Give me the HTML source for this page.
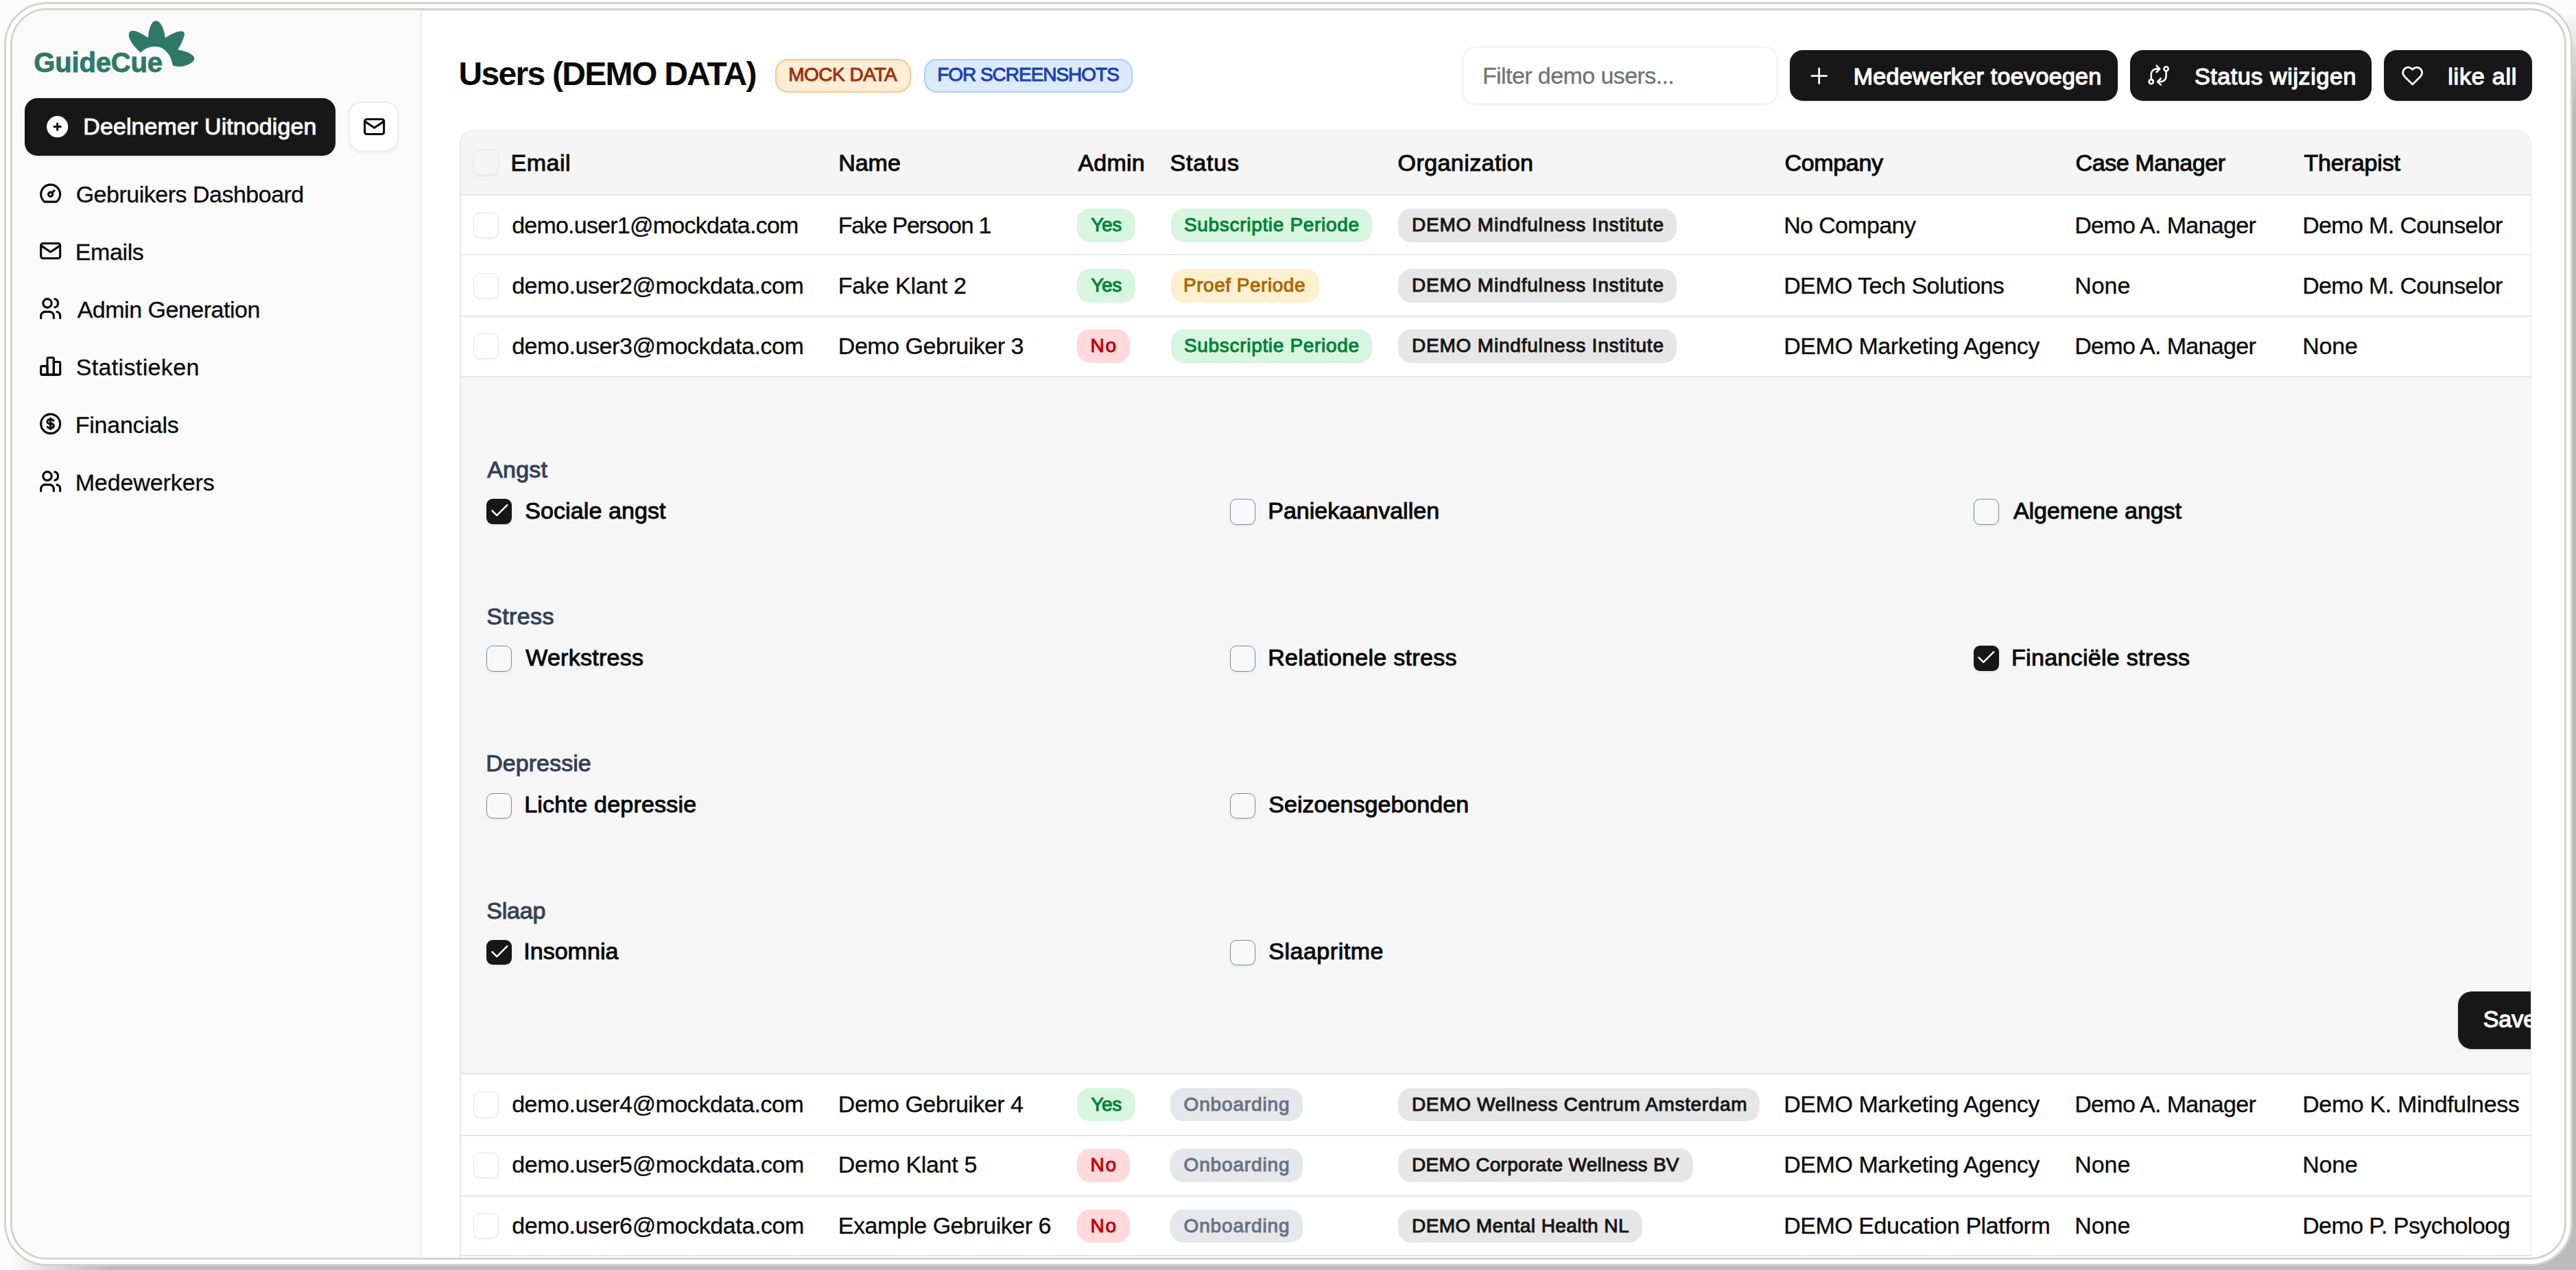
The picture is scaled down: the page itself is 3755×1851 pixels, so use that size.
<!DOCTYPE html>
<html lang="nl"><head><meta charset="utf-8"><title>Users (DEMO DATA)</title><style>
html,body{margin:0;padding:0}
body{width:3755px;height:1851px;overflow:hidden;background:#fcfcfc;position:relative;font-family:"Liberation Sans",Arial,sans-serif;-webkit-font-smoothing:antialiased}
.t{position:absolute;white-space:pre;display:block;margin:0;padding:0}
</style></head><body>
<div style="position:absolute;left:3700px;top:0;width:55px;height:1851px;background:linear-gradient(to bottom,#fcfcfc 18px,#d6d6d6 85px,#bbbbbb 160px)"></div>
<div style="position:absolute;left:0;top:1790px;width:3755px;height:61px;background:linear-gradient(to right,#fcfcfc 18px,#d6d6d6 85px,#bbbbbb 160px)"></div>
<div class="" style="position:absolute;left:6.00px;top:3.00px;width:3744.00px;height:1842.00px;box-sizing:border-box;border:3px solid #d3d3d1;border-radius:62px;background:#fff;"></div>
<div id="win" style="position:absolute;left:15px;top:12px;width:3726px;height:1824px;box-sizing:border-box;border:3px solid #d3d3d1;border-radius:53px;background:#fff;overflow:hidden"><div id="app" style="position:absolute;left:-18px;top:-15px;width:3755px;height:1851px">
<div class="" style="position:absolute;left:0.00px;top:0.00px;width:613.00px;height:1851.00px;background:#fafafa;"></div>
<div class="" style="position:absolute;left:613.00px;top:0.00px;width:2.00px;height:1851.00px;background:#ebebeb;"></div>
<svg style="position:absolute;left:30px;top:20px" width="280" height="100" viewBox="0 0 2576 920"><path fill="#2f7867" d="M1610 520C1540 470 1440 340 1452 280C1455 225 1500 220 1540 232C1600 250 1660 290 1712 322C1715 230 1750 95 1815 95C1885 95 1930 230 1940 322C2000 285 2080 240 2150 235C2200 235 2205 270 2190 310C2175 370 2140 430 2108 480C2180 495 2290 520 2325 580C2345 620 2300 660 2240 685C2180 710 2100 720 2040 692C2030 600 1960 440 1800 440C1720 440 1660 475 1610 520Z"/></svg>
<span class="t " style="left:49.30px;top:70.74px;font-size:40px;line-height:40px;letter-spacing:-0.189px;color:#2f7867;font-weight:700;-webkit-text-stroke:0.8px #2f7867;">GuideCue</span>
<div class="" style="position:absolute;left:36.00px;top:143.30px;width:453.00px;height:83.70px;background:#171717;border-radius:18.7px;box-shadow:0 2px 4px rgba(0,0,0,.08);"></div>
<svg style="position:absolute;left:64.5px;top:166px" width="37.33" height="37.33" viewBox="0 0 24 24"><path fill="#fff" d="M12 2a10 10 0 1 1 0 20a10 10 0 0 1 0 -20zm0 6a1 1 0 0 0 -1 1v2h-2a1 1 0 0 0 0 2h2v2a1 1 0 0 0 2 0v-2h2a1 1 0 0 0 0 -2h-2v-2a1 1 0 0 0 -1 -1z"/></svg>
<span class="t " style="left:121.30px;top:167.02px;font-size:34px;line-height:34px;letter-spacing:0.096px;color:#fafafa;-webkit-text-stroke:1.0px #fafafa;">Deelnemer Uitnodigen</span>
<div class="" style="position:absolute;left:508.20px;top:147.80px;width:73.20px;height:73.20px;box-sizing:border-box;background:#fff;border:2px solid #ececec;border-radius:18.7px;box-shadow:0 2px 4px rgba(0,0,0,.05);"></div>
<svg style="position:absolute;left:526.74px;top:166.34px" width="37.33" height="37.33" viewBox="0 0 24 24" fill="none" stroke="#0a0a0a" stroke-width="2" stroke-linecap="round" stroke-linejoin="round" ><path d="M3 7a2 2 0 0 1 2 -2h14a2 2 0 0 1 2 2v10a2 2 0 0 1 -2 2h-14a2 2 0 0 1 -2 -2v-10z"/><path d="M3 7l9 6l9 -6"/></svg>
<svg style="position:absolute;left:55.34px;top:263.33px" width="37.33" height="37.33" viewBox="0 0 24 24" fill="none" stroke="#0a0a0a" stroke-width="2" stroke-linecap="round" stroke-linejoin="round" ><path d="M12 13m-2 0a2 2 0 1 0 4 0a2 2 0 1 0 -4 0"/><path d="M13.45 11.55l2.05 -2.05"/><path d="M6.4 20a9 9 0 1 1 11.2 0z"/></svg>
<span class="t " style="left:110.65px;top:265.52px;font-size:34px;line-height:34px;letter-spacing:-0.496px;color:#0a0a0a;-webkit-text-stroke:0.3px #0a0a0a;">Gebruikers Dashboard</span>
<svg style="position:absolute;left:55.34px;top:347.33px" width="37.33" height="37.33" viewBox="0 0 24 24" fill="none" stroke="#0a0a0a" stroke-width="2" stroke-linecap="round" stroke-linejoin="round" ><path d="M3 7a2 2 0 0 1 2 -2h14a2 2 0 0 1 2 2v10a2 2 0 0 1 -2 2h-14a2 2 0 0 1 -2 -2v-10z"/><path d="M3 7l9 6l9 -6"/></svg>
<span class="t " style="left:109.65px;top:349.52px;font-size:34px;line-height:34px;letter-spacing:-0.360px;color:#0a0a0a;-webkit-text-stroke:0.3px #0a0a0a;">Emails</span>
<svg style="position:absolute;left:55.34px;top:431.33px" width="37.33" height="37.33" viewBox="0 0 24 24" fill="none" stroke="#0a0a0a" stroke-width="2" stroke-linecap="round" stroke-linejoin="round" ><path d="M9 7m-4 0a4 4 0 1 0 8 0a4 4 0 1 0 -8 0"/><path d="M3 21v-2a4 4 0 0 1 4 -4h4a4 4 0 0 1 4 4v2"/><path d="M16 3.13a4 4 0 0 1 0 7.75"/><path d="M21 21v-2a4 4 0 0 0 -3 -3.85"/></svg>
<span class="t " style="left:112.65px;top:433.52px;font-size:34px;line-height:34px;letter-spacing:-0.487px;color:#0a0a0a;-webkit-text-stroke:0.3px #0a0a0a;">Admin Generation</span>
<svg style="position:absolute;left:55.34px;top:515.34px" width="37.33" height="37.33" viewBox="0 0 24 24" fill="none" stroke="#0a0a0a" stroke-width="2" stroke-linecap="round" stroke-linejoin="round" ><path d="M3 13a1 1 0 0 1 1 -1h4a1 1 0 0 1 1 1v6a1 1 0 0 1 -1 1h-4a1 1 0 0 1 -1 -1z"/><path d="M15 9a1 1 0 0 1 1 -1h4a1 1 0 0 1 1 1v10a1 1 0 0 1 -1 1h-4a1 1 0 0 1 -1 -1z"/><path d="M9 5a1 1 0 0 1 1 -1h4a1 1 0 0 1 1 1v14a1 1 0 0 1 -1 1h-4a1 1 0 0 1 -1 -1z"/><path d="M4 20h14"/></svg>
<span class="t " style="left:110.65px;top:517.52px;font-size:34px;line-height:34px;letter-spacing:0.359px;color:#0a0a0a;-webkit-text-stroke:0.3px #0a0a0a;">Statistieken</span>
<svg style="position:absolute;left:55.34px;top:599.34px" width="37.33" height="37.33" viewBox="0 0 24 24" fill="none" stroke="#0a0a0a" stroke-width="2" stroke-linecap="round" stroke-linejoin="round" ><path d="M12 12m-9 0a9 9 0 1 0 18 0a9 9 0 1 0 -18 0"/><path d="M14.8 9a2 2 0 0 0 -1.8 -1h-2a2 2 0 1 0 0 4h2a2 2 0 1 1 0 4h-2a2 2 0 0 1 -1.8 -1"/><path d="M12 7v10"/></svg>
<span class="t " style="left:109.65px;top:601.52px;font-size:34px;line-height:34px;letter-spacing:-0.214px;color:#0a0a0a;-webkit-text-stroke:0.3px #0a0a0a;">Financials</span>
<svg style="position:absolute;left:55.34px;top:683.34px" width="37.33" height="37.33" viewBox="0 0 24 24" fill="none" stroke="#0a0a0a" stroke-width="2" stroke-linecap="round" stroke-linejoin="round" ><path d="M9 7m-4 0a4 4 0 1 0 8 0a4 4 0 1 0 -8 0"/><path d="M3 21v-2a4 4 0 0 1 4 -4h4a4 4 0 0 1 4 4v2"/><path d="M16 3.13a4 4 0 0 1 0 7.75"/><path d="M21 21v-2a4 4 0 0 0 -3 -3.85"/></svg>
<span class="t " style="left:109.65px;top:685.52px;font-size:34px;line-height:34px;letter-spacing:-0.093px;color:#0a0a0a;-webkit-text-stroke:0.3px #0a0a0a;">Medewerkers</span>
<span class="t " style="left:668.50px;top:83.67px;font-size:48px;line-height:48px;letter-spacing:-1.703px;color:#0a0a0a;font-weight:700;">Users (DEMO DATA)</span>
<div class="" style="position:absolute;left:1130.00px;top:86.00px;width:197.80px;height:49.00px;box-sizing:border-box;background:#ffedd5;border:2px solid #fdc48b;border-radius:18.7px;"></div>
<span class="t " style="left:1149.20px;top:95.40px;font-size:28px;line-height:28px;letter-spacing:-0.469px;color:#9a3412;-webkit-text-stroke:1.0px #9a3412;">MOCK DATA</span>
<div class="" style="position:absolute;left:1347.00px;top:86.00px;width:304.30px;height:49.00px;box-sizing:border-box;background:#dbeafe;border:2px solid #a9cffc;border-radius:18.7px;"></div>
<span class="t " style="left:1366.20px;top:95.40px;font-size:28px;line-height:28px;letter-spacing:-1.029px;color:#1e40af;-webkit-text-stroke:1.0px #1e40af;">FOR SCREENSHOTS</span>
<div class="" style="position:absolute;left:2132.00px;top:67.80px;width:458.50px;height:83.80px;box-sizing:border-box;background:#fff;border:1.7px solid #e9e9e9;border-radius:18.7px;box-shadow:0 2px 4px rgba(0,0,0,.05);"></div>
<span class="t " style="left:2160.95px;top:93.02px;font-size:34px;line-height:34px;letter-spacing:-0.584px;color:#737373;-webkit-text-stroke:0.3px #737373;">Filter demo users...</span>
<div class="" style="position:absolute;left:2609.00px;top:73.00px;width:478.00px;height:74.00px;background:#171717;border-radius:18.7px;box-shadow:0 2px 4px rgba(0,0,0,.08);"></div>
<svg style="position:absolute;left:2632.84px;top:91.84px" width="37.33" height="37.33" viewBox="0 0 24 24" fill="none" stroke="#fafafa" stroke-width="1.8" stroke-linecap="round" stroke-linejoin="round" ><path d="M12 5l0 14"/><path d="M5 12l14 0"/></svg>
<span class="t " style="left:2701.68px;top:93.52px;font-size:34px;line-height:34px;letter-spacing:0.330px;color:#fafafa;-webkit-text-stroke:1.35px #fafafa;">Medewerker toevoegen</span>
<div class="" style="position:absolute;left:3105.20px;top:73.00px;width:351.80px;height:74.00px;background:#171717;border-radius:18.7px;box-shadow:0 2px 4px rgba(0,0,0,.08);"></div>
<svg style="position:absolute;left:3128.34px;top:91.34px" width="37.33" height="37.33" viewBox="0 0 24 24" fill="none" stroke="#fafafa" stroke-width="1.7" stroke-linecap="round" stroke-linejoin="round" ><path d="M5 18m-2 0a2 2 0 1 0 4 0a2 2 0 1 0 -4 0"/><path d="M19 6m-2 0a2 2 0 1 0 4 0a2 2 0 1 0 -4 0"/><path d="M19 8v5a5 5 0 0 1 -5 5h-3l3 -3m0 6l-3 -3"/><path d="M5 16v-5a5 5 0 0 1 5 -5h3l-3 -3m0 6l3 -3"/></svg>
<span class="t " style="left:3198.88px;top:93.52px;font-size:34px;line-height:34px;letter-spacing:0.621px;color:#fafafa;-webkit-text-stroke:1.35px #fafafa;">Status wijzigen</span>
<div class="" style="position:absolute;left:3475.00px;top:73.00px;width:215.50px;height:74.00px;background:#171717;border-radius:18.7px;box-shadow:0 2px 4px rgba(0,0,0,.08);"></div>
<svg style="position:absolute;left:3498.34px;top:91.84px" width="37.33" height="37.33" viewBox="0 0 24 24" fill="none" stroke="#fafafa" stroke-width="1.8" stroke-linecap="round" stroke-linejoin="round" ><path d="M19.5 12.572l-7.5 7.428l-7.5 -7.428a5 5 0 1 1 7.5 -6.566a5 5 0 1 1 7.5 6.572"/></svg>
<span class="t " style="left:3568.18px;top:93.52px;font-size:34px;line-height:34px;letter-spacing:0.807px;color:#fafafa;-webkit-text-stroke:1.35px #fafafa;">like all</span>
<div id="table" style="position:absolute;left:670.1px;top:190px;width:3020.3px;height:1700px;box-sizing:border-box;border:2px solid #e6e7e9;border-right-width:1px;border-top-width:1px;border-radius:20px;overflow:hidden;background:#fff"><div style="position:absolute;left:-672.1px;top:-191px;width:3755px;height:1851px">
<div class="" style="position:absolute;left:670.10px;top:190.00px;width:3020.30px;height:93.50px;background:#f5f5f5;"></div>
<div class="" style="position:absolute;left:670.10px;top:549.00px;width:3020.30px;height:1016.00px;background:#f6f6f6;"></div>
<div class="" style="position:absolute;left:670.10px;top:282.60px;width:3020.30px;height:2.00px;background:#e7e7e7;"></div>
<div class="" style="position:absolute;left:670.10px;top:370.30px;width:3020.30px;height:2.00px;background:#e7e7e7;"></div>
<div class="" style="position:absolute;left:670.10px;top:459.80px;width:3020.30px;height:2.00px;background:#e7e7e7;"></div>
<div class="" style="position:absolute;left:670.10px;top:547.70px;width:3020.30px;height:2.00px;background:#e7e7e7;"></div>
<div class="" style="position:absolute;left:670.10px;top:1563.90px;width:3020.30px;height:2.00px;background:#e7e7e7;"></div>
<div class="" style="position:absolute;left:670.10px;top:1653.60px;width:3020.30px;height:2.00px;background:#e7e7e7;"></div>
<div class="" style="position:absolute;left:670.10px;top:1741.70px;width:3020.30px;height:2.00px;background:#e7e7e7;"></div>
<div class="" style="position:absolute;left:670.10px;top:1829.20px;width:3020.30px;height:2.00px;background:#e7e7e7;"></div>
<div class="" style="position:absolute;left:690.00px;top:218.20px;width:37.30px;height:37.30px;box-sizing:border-box;background:#f5f5f5;border:1.6px solid #e5e5e5;border-radius:9.3px;box-shadow:0 2px 3px rgba(0,0,0,.05);"></div>
<span class="t " style="left:744.50px;top:219.52px;font-size:34px;line-height:34px;letter-spacing:0.500px;color:#0a0a0a;-webkit-text-stroke:1.0px #0a0a0a;">Email</span>
<span class="t " style="left:1222.20px;top:219.52px;font-size:34px;line-height:34px;letter-spacing:-0.017px;color:#0a0a0a;-webkit-text-stroke:1.0px #0a0a0a;">Name</span>
<span class="t " style="left:1571.40px;top:219.52px;font-size:34px;line-height:34px;letter-spacing:0.231px;color:#0a0a0a;-webkit-text-stroke:1.0px #0a0a0a;">Admin</span>
<span class="t " style="left:1705.50px;top:219.52px;font-size:34px;line-height:34px;letter-spacing:0.825px;color:#0a0a0a;-webkit-text-stroke:1.0px #0a0a0a;">Status</span>
<span class="t " style="left:2037.50px;top:219.52px;font-size:34px;line-height:34px;letter-spacing:0.432px;color:#0a0a0a;-webkit-text-stroke:1.0px #0a0a0a;">Organization</span>
<span class="t " style="left:2601.50px;top:219.52px;font-size:34px;line-height:34px;letter-spacing:-0.333px;color:#0a0a0a;-webkit-text-stroke:1.0px #0a0a0a;">Company</span>
<span class="t " style="left:3025.50px;top:219.52px;font-size:34px;line-height:34px;letter-spacing:-0.409px;color:#0a0a0a;-webkit-text-stroke:1.0px #0a0a0a;">Case Manager</span>
<span class="t " style="left:3358.50px;top:219.52px;font-size:34px;line-height:34px;letter-spacing:-0.156px;color:#0a0a0a;-webkit-text-stroke:1.0px #0a0a0a;">Therapist</span>
<div class="" style="position:absolute;left:690.00px;top:309.75px;width:37.30px;height:37.30px;box-sizing:border-box;background:#fff;border:1.6px solid #e5e5e5;border-radius:9.3px;box-shadow:0 2px 3px rgba(0,0,0,.05);"></div>
<span class="t " style="left:746.15px;top:310.52px;font-size:34px;line-height:34px;letter-spacing:-0.769px;color:#0a0a0a;-webkit-text-stroke:0.3px #0a0a0a;">demo.user1@mockdata.com</span>
<span class="t " style="left:1221.85px;top:310.52px;font-size:34px;line-height:34px;letter-spacing:-1.269px;color:#0a0a0a;-webkit-text-stroke:0.3px #0a0a0a;">Fake Persoon 1</span>
<div class="" style="position:absolute;left:1570.20px;top:304.15px;width:84.80px;height:48.50px;background:#d7f5df;border-radius:18.7px;"></div>
<span class="t " style="left:1590.30px;top:314.30px;font-size:28px;line-height:28px;letter-spacing:-0.312px;color:#008236;-webkit-text-stroke:1.0px #008236;">Yes</span>
<div class="" style="position:absolute;left:1706.50px;top:304.15px;width:293.50px;height:48.50px;background:#d7f5df;border-radius:18.7px;"></div>
<span class="t " style="left:1726.00px;top:314.30px;font-size:28px;line-height:28px;letter-spacing:0.681px;color:#008236;-webkit-text-stroke:1.0px #008236;">Subscriptie Periode</span>
<div class="" style="position:absolute;left:2038.30px;top:304.15px;width:406.20px;height:48.50px;background:#e6e6e6;border-radius:18.7px;"></div>
<span class="t " style="left:2058.00px;top:314.30px;font-size:28px;line-height:28px;letter-spacing:0.800px;color:#171717;-webkit-text-stroke:1.0px #171717;">DEMO Mindfulness Institute</span>
<span class="t " style="left:2600.15px;top:310.52px;font-size:34px;line-height:34px;letter-spacing:-0.631px;color:#0a0a0a;-webkit-text-stroke:0.3px #0a0a0a;">No Company</span>
<span class="t " style="left:3024.15px;top:310.52px;font-size:34px;line-height:34px;letter-spacing:-0.664px;color:#0a0a0a;-webkit-text-stroke:0.3px #0a0a0a;">Demo A. Manager</span>
<span class="t " style="left:3356.15px;top:310.52px;font-size:34px;line-height:34px;letter-spacing:-0.636px;color:#0a0a0a;-webkit-text-stroke:0.3px #0a0a0a;">Demo M. Counselor</span>
<div class="" style="position:absolute;left:690.00px;top:397.75px;width:37.30px;height:37.30px;box-sizing:border-box;background:#fff;border:1.6px solid #e5e5e5;border-radius:9.3px;box-shadow:0 2px 3px rgba(0,0,0,.05);"></div>
<span class="t " style="left:746.15px;top:398.52px;font-size:34px;line-height:34px;letter-spacing:-0.428px;color:#0a0a0a;-webkit-text-stroke:0.3px #0a0a0a;">demo.user2@mockdata.com</span>
<span class="t " style="left:1221.85px;top:398.52px;font-size:34px;line-height:34px;letter-spacing:-0.352px;color:#0a0a0a;-webkit-text-stroke:0.3px #0a0a0a;">Fake Klant 2</span>
<div class="" style="position:absolute;left:1570.20px;top:392.15px;width:84.80px;height:48.50px;background:#d7f5df;border-radius:18.7px;"></div>
<span class="t " style="left:1590.30px;top:402.30px;font-size:28px;line-height:28px;letter-spacing:-0.312px;color:#008236;-webkit-text-stroke:1.0px #008236;">Yes</span>
<div class="" style="position:absolute;left:1706.50px;top:392.15px;width:216.00px;height:48.50px;background:#fdf0cf;border-radius:18.7px;"></div>
<span class="t " style="left:1725.00px;top:402.30px;font-size:28px;line-height:28px;letter-spacing:0.521px;color:#ad6608;-webkit-text-stroke:1.0px #ad6608;">Proef Periode</span>
<div class="" style="position:absolute;left:2038.30px;top:392.15px;width:406.20px;height:48.50px;background:#e6e6e6;border-radius:18.7px;"></div>
<span class="t " style="left:2058.00px;top:402.30px;font-size:28px;line-height:28px;letter-spacing:0.800px;color:#171717;-webkit-text-stroke:1.0px #171717;">DEMO Mindfulness Institute</span>
<span class="t " style="left:2600.15px;top:398.52px;font-size:34px;line-height:34px;letter-spacing:-0.572px;color:#0a0a0a;-webkit-text-stroke:0.3px #0a0a0a;">DEMO Tech Solutions</span>
<span class="t " style="left:3024.15px;top:398.52px;font-size:34px;line-height:34px;letter-spacing:-0.017px;color:#0a0a0a;-webkit-text-stroke:0.3px #0a0a0a;">None</span>
<span class="t " style="left:3356.15px;top:398.52px;font-size:34px;line-height:34px;letter-spacing:-0.636px;color:#0a0a0a;-webkit-text-stroke:0.3px #0a0a0a;">Demo M. Counselor</span>
<div class="" style="position:absolute;left:690.00px;top:485.75px;width:37.30px;height:37.30px;box-sizing:border-box;background:#fff;border:1.6px solid #e5e5e5;border-radius:9.3px;box-shadow:0 2px 3px rgba(0,0,0,.05);"></div>
<span class="t " style="left:746.15px;top:486.52px;font-size:34px;line-height:34px;letter-spacing:-0.428px;color:#0a0a0a;-webkit-text-stroke:0.3px #0a0a0a;">demo.user3@mockdata.com</span>
<span class="t " style="left:1221.85px;top:486.52px;font-size:34px;line-height:34px;letter-spacing:-0.483px;color:#0a0a0a;-webkit-text-stroke:0.3px #0a0a0a;">Demo Gebruiker 3</span>
<div class="" style="position:absolute;left:1570.20px;top:480.15px;width:77.00px;height:48.50px;background:#ffd9db;border-radius:18.7px;"></div>
<span class="t " style="left:1589.50px;top:490.30px;font-size:28px;line-height:28px;letter-spacing:1.750px;color:#c10007;-webkit-text-stroke:1.0px #c10007;">No</span>
<div class="" style="position:absolute;left:1706.50px;top:480.15px;width:293.50px;height:48.50px;background:#d7f5df;border-radius:18.7px;"></div>
<span class="t " style="left:1726.00px;top:490.30px;font-size:28px;line-height:28px;letter-spacing:0.681px;color:#008236;-webkit-text-stroke:1.0px #008236;">Subscriptie Periode</span>
<div class="" style="position:absolute;left:2038.30px;top:480.15px;width:406.20px;height:48.50px;background:#e6e6e6;border-radius:18.7px;"></div>
<span class="t " style="left:2058.00px;top:490.30px;font-size:28px;line-height:28px;letter-spacing:0.800px;color:#171717;-webkit-text-stroke:1.0px #171717;">DEMO Mindfulness Institute</span>
<span class="t " style="left:2600.15px;top:486.52px;font-size:34px;line-height:34px;letter-spacing:-0.427px;color:#0a0a0a;-webkit-text-stroke:0.3px #0a0a0a;">DEMO Marketing Agency</span>
<span class="t " style="left:3024.15px;top:486.52px;font-size:34px;line-height:34px;letter-spacing:-0.664px;color:#0a0a0a;-webkit-text-stroke:0.3px #0a0a0a;">Demo A. Manager</span>
<span class="t " style="left:3356.15px;top:486.52px;font-size:34px;line-height:34px;letter-spacing:-0.183px;color:#0a0a0a;-webkit-text-stroke:0.3px #0a0a0a;">None</span>
<div class="" style="position:absolute;left:690.00px;top:1591.35px;width:37.30px;height:37.30px;box-sizing:border-box;background:#fff;border:1.6px solid #e5e5e5;border-radius:9.3px;box-shadow:0 2px 3px rgba(0,0,0,.05);"></div>
<span class="t " style="left:746.15px;top:1592.12px;font-size:34px;line-height:34px;letter-spacing:-0.428px;color:#0a0a0a;-webkit-text-stroke:0.3px #0a0a0a;">demo.user4@mockdata.com</span>
<span class="t " style="left:1221.85px;top:1592.12px;font-size:34px;line-height:34px;letter-spacing:-0.517px;color:#0a0a0a;-webkit-text-stroke:0.3px #0a0a0a;">Demo Gebruiker 4</span>
<div class="" style="position:absolute;left:1570.20px;top:1585.75px;width:84.80px;height:48.50px;background:#d7f5df;border-radius:18.7px;"></div>
<span class="t " style="left:1590.30px;top:1595.90px;font-size:28px;line-height:28px;letter-spacing:-0.312px;color:#008236;-webkit-text-stroke:1.0px #008236;">Yes</span>
<div class="" style="position:absolute;left:1706.00px;top:1585.75px;width:192.50px;height:48.50px;background:#e5e7eb;border-radius:18.7px;"></div>
<span class="t " style="left:1725.50px;top:1595.90px;font-size:28px;line-height:28px;letter-spacing:0.847px;color:#6a7282;-webkit-text-stroke:1.0px #6a7282;">Onboarding</span>
<div class="" style="position:absolute;left:2038.30px;top:1585.75px;width:526.70px;height:48.50px;background:#e6e6e6;border-radius:18.7px;"></div>
<span class="t " style="left:2058.00px;top:1595.90px;font-size:28px;line-height:28px;letter-spacing:0.637px;color:#171717;-webkit-text-stroke:1.0px #171717;">DEMO Wellness Centrum Amsterdam</span>
<span class="t " style="left:2600.15px;top:1592.12px;font-size:34px;line-height:34px;letter-spacing:-0.427px;color:#0a0a0a;-webkit-text-stroke:0.3px #0a0a0a;">DEMO Marketing Agency</span>
<span class="t " style="left:3024.15px;top:1592.12px;font-size:34px;line-height:34px;letter-spacing:-0.664px;color:#0a0a0a;-webkit-text-stroke:0.3px #0a0a0a;">Demo A. Manager</span>
<span class="t " style="left:3356.15px;top:1592.12px;font-size:34px;line-height:34px;letter-spacing:-0.357px;color:#0a0a0a;-webkit-text-stroke:0.3px #0a0a0a;">Demo K. Mindfulness</span>
<div class="" style="position:absolute;left:690.00px;top:1679.65px;width:37.30px;height:37.30px;box-sizing:border-box;background:#fff;border:1.6px solid #e5e5e5;border-radius:9.3px;box-shadow:0 2px 3px rgba(0,0,0,.05);"></div>
<span class="t " style="left:746.15px;top:1680.42px;font-size:34px;line-height:34px;letter-spacing:-0.406px;color:#0a0a0a;-webkit-text-stroke:0.3px #0a0a0a;">demo.user5@mockdata.com</span>
<span class="t " style="left:1221.85px;top:1680.42px;font-size:34px;line-height:34px;letter-spacing:-0.318px;color:#0a0a0a;-webkit-text-stroke:0.3px #0a0a0a;">Demo Klant 5</span>
<div class="" style="position:absolute;left:1570.20px;top:1674.05px;width:77.00px;height:48.50px;background:#ffd9db;border-radius:18.7px;"></div>
<span class="t " style="left:1589.50px;top:1684.20px;font-size:28px;line-height:28px;letter-spacing:1.750px;color:#c10007;-webkit-text-stroke:1.0px #c10007;">No</span>
<div class="" style="position:absolute;left:1706.00px;top:1674.05px;width:192.50px;height:48.50px;background:#e5e7eb;border-radius:18.7px;"></div>
<span class="t " style="left:1725.50px;top:1684.20px;font-size:28px;line-height:28px;letter-spacing:0.847px;color:#6a7282;-webkit-text-stroke:1.0px #6a7282;">Onboarding</span>
<div class="" style="position:absolute;left:2038.30px;top:1674.05px;width:429.70px;height:48.50px;background:#e6e6e6;border-radius:18.7px;"></div>
<span class="t " style="left:2058.00px;top:1684.20px;font-size:28px;line-height:28px;letter-spacing:0.290px;color:#171717;-webkit-text-stroke:1.0px #171717;">DEMO Corporate Wellness BV</span>
<span class="t " style="left:2600.15px;top:1680.42px;font-size:34px;line-height:34px;letter-spacing:-0.427px;color:#0a0a0a;-webkit-text-stroke:0.3px #0a0a0a;">DEMO Marketing Agency</span>
<span class="t " style="left:3024.15px;top:1680.42px;font-size:34px;line-height:34px;letter-spacing:-0.017px;color:#0a0a0a;-webkit-text-stroke:0.3px #0a0a0a;">None</span>
<span class="t " style="left:3356.15px;top:1680.42px;font-size:34px;line-height:34px;letter-spacing:-0.183px;color:#0a0a0a;-webkit-text-stroke:0.3px #0a0a0a;">None</span>
<div class="" style="position:absolute;left:690.00px;top:1768.15px;width:37.30px;height:37.30px;box-sizing:border-box;background:#fff;border:1.6px solid #e5e5e5;border-radius:9.3px;box-shadow:0 2px 3px rgba(0,0,0,.05);"></div>
<span class="t " style="left:746.15px;top:1768.92px;font-size:34px;line-height:34px;letter-spacing:-0.406px;color:#0a0a0a;-webkit-text-stroke:0.3px #0a0a0a;">demo.user6@mockdata.com</span>
<span class="t " style="left:1221.85px;top:1768.92px;font-size:34px;line-height:34px;letter-spacing:-0.493px;color:#0a0a0a;-webkit-text-stroke:0.3px #0a0a0a;">Example Gebruiker 6</span>
<div class="" style="position:absolute;left:1570.20px;top:1762.55px;width:77.00px;height:48.50px;background:#ffd9db;border-radius:18.7px;"></div>
<span class="t " style="left:1589.50px;top:1772.70px;font-size:28px;line-height:28px;letter-spacing:1.750px;color:#c10007;-webkit-text-stroke:1.0px #c10007;">No</span>
<div class="" style="position:absolute;left:1706.00px;top:1762.55px;width:192.50px;height:48.50px;background:#e5e7eb;border-radius:18.7px;"></div>
<span class="t " style="left:1725.50px;top:1772.70px;font-size:28px;line-height:28px;letter-spacing:0.847px;color:#6a7282;-webkit-text-stroke:1.0px #6a7282;">Onboarding</span>
<div class="" style="position:absolute;left:2038.30px;top:1762.55px;width:355.70px;height:48.50px;background:#e6e6e6;border-radius:18.7px;"></div>
<span class="t " style="left:2058.00px;top:1772.70px;font-size:28px;line-height:28px;letter-spacing:0.419px;color:#171717;-webkit-text-stroke:1.0px #171717;">DEMO Mental Health NL</span>
<span class="t " style="left:2600.15px;top:1768.92px;font-size:34px;line-height:34px;letter-spacing:-0.457px;color:#0a0a0a;-webkit-text-stroke:0.3px #0a0a0a;">DEMO Education Platform</span>
<span class="t " style="left:3024.15px;top:1768.92px;font-size:34px;line-height:34px;letter-spacing:-0.017px;color:#0a0a0a;-webkit-text-stroke:0.3px #0a0a0a;">None</span>
<span class="t " style="left:3356.15px;top:1768.92px;font-size:34px;line-height:34px;letter-spacing:-0.584px;color:#0a0a0a;-webkit-text-stroke:0.3px #0a0a0a;">Demo P. Psycholoog</span>
<span class="t " style="left:710.20px;top:666.52px;font-size:34px;line-height:34px;letter-spacing:0.200px;color:#334155;-webkit-text-stroke:1.0px #334155;">Angst</span>
<div class="" style="position:absolute;left:709.20px;top:727.30px;width:37.30px;height:36.40px;background:#171717;border-radius:9.3px;box-shadow:0 2px 3px rgba(0,0,0,.08);"></div>
<svg style="position:absolute;left:711.51px;top:728.21px" width="32.67" height="32.67" viewBox="0 0 24 24" fill="none" stroke="#fff" stroke-width="1.8" stroke-linecap="round" stroke-linejoin="round" ><path d="M20 6 9 17l-5-5"/></svg>
<span class="t " style="left:765.20px;top:726.82px;font-size:34px;line-height:34px;letter-spacing:0.098px;color:#0a0a0a;-webkit-text-stroke:1.0px #0a0a0a;">Sociale angst</span>
<div class="" style="position:absolute;left:1792.50px;top:727.30px;width:37.30px;height:37.30px;box-sizing:border-box;background:#f8f8f8;border:1.5px solid #7888a0;border-radius:9.3px;box-shadow:0 2px 3px rgba(0,0,0,.06);"></div>
<span class="t " style="left:1848.20px;top:726.82px;font-size:34px;line-height:34px;letter-spacing:0.029px;color:#0a0a0a;-webkit-text-stroke:1.0px #0a0a0a;">Paniekaanvallen</span>
<div class="" style="position:absolute;left:2877.00px;top:727.30px;width:37.30px;height:37.30px;box-sizing:border-box;background:#f8f8f8;border:1.5px solid #7888a0;border-radius:9.3px;box-shadow:0 2px 3px rgba(0,0,0,.06);"></div>
<span class="t " style="left:2935.00px;top:726.82px;font-size:34px;line-height:34px;letter-spacing:-0.058px;color:#0a0a0a;-webkit-text-stroke:1.0px #0a0a0a;">Algemene angst</span>
<span class="t " style="left:709.20px;top:881.32px;font-size:34px;line-height:34px;letter-spacing:0.385px;color:#334155;-webkit-text-stroke:1.0px #334155;">Stress</span>
<div class="" style="position:absolute;left:709.20px;top:941.40px;width:37.30px;height:37.30px;box-sizing:border-box;background:#f8f8f8;border:1.5px solid #7888a0;border-radius:9.3px;box-shadow:0 2px 3px rgba(0,0,0,.06);"></div>
<span class="t " style="left:766.20px;top:940.92px;font-size:34px;line-height:34px;letter-spacing:0.269px;color:#0a0a0a;-webkit-text-stroke:1.0px #0a0a0a;">Werkstress</span>
<div class="" style="position:absolute;left:1792.50px;top:941.40px;width:37.30px;height:37.30px;box-sizing:border-box;background:#f8f8f8;border:1.5px solid #7888a0;border-radius:9.3px;box-shadow:0 2px 3px rgba(0,0,0,.06);"></div>
<span class="t " style="left:1848.20px;top:940.92px;font-size:34px;line-height:34px;letter-spacing:0.297px;color:#0a0a0a;-webkit-text-stroke:1.0px #0a0a0a;">Relationele stress</span>
<div class="" style="position:absolute;left:2877.00px;top:941.40px;width:37.30px;height:36.40px;background:#171717;border-radius:9.3px;box-shadow:0 2px 3px rgba(0,0,0,.08);"></div>
<svg style="position:absolute;left:2879.32px;top:942.31px" width="32.67" height="32.67" viewBox="0 0 24 24" fill="none" stroke="#fff" stroke-width="1.8" stroke-linecap="round" stroke-linejoin="round" ><path d="M20 6 9 17l-5-5"/></svg>
<span class="t " style="left:2932.00px;top:940.92px;font-size:34px;line-height:34px;letter-spacing:0.305px;color:#0a0a0a;-webkit-text-stroke:1.0px #0a0a0a;">Financiële stress</span>
<span class="t " style="left:708.20px;top:1095.32px;font-size:34px;line-height:34px;letter-spacing:0.059px;color:#334155;-webkit-text-stroke:1.0px #334155;">Depressie</span>
<div class="" style="position:absolute;left:709.20px;top:1155.60px;width:37.30px;height:37.30px;box-sizing:border-box;background:#f8f8f8;border:1.5px solid #7888a0;border-radius:9.3px;box-shadow:0 2px 3px rgba(0,0,0,.06);"></div>
<span class="t " style="left:764.20px;top:1155.12px;font-size:34px;line-height:34px;letter-spacing:0.232px;color:#0a0a0a;-webkit-text-stroke:1.0px #0a0a0a;">Lichte depressie</span>
<div class="" style="position:absolute;left:1792.50px;top:1155.60px;width:37.30px;height:37.30px;box-sizing:border-box;background:#f8f8f8;border:1.5px solid #7888a0;border-radius:9.3px;box-shadow:0 2px 3px rgba(0,0,0,.06);"></div>
<span class="t " style="left:1849.20px;top:1155.12px;font-size:34px;line-height:34px;letter-spacing:0.052px;color:#0a0a0a;-webkit-text-stroke:1.0px #0a0a0a;">Seizoensgebonden</span>
<span class="t " style="left:709.20px;top:1310.02px;font-size:34px;line-height:34px;letter-spacing:-0.175px;color:#334155;-webkit-text-stroke:1.0px #334155;">Slaap</span>
<div class="" style="position:absolute;left:709.20px;top:1369.60px;width:37.30px;height:36.40px;background:#171717;border-radius:9.3px;box-shadow:0 2px 3px rgba(0,0,0,.08);"></div>
<svg style="position:absolute;left:711.51px;top:1370.51px" width="32.67" height="32.67" viewBox="0 0 24 24" fill="none" stroke="#fff" stroke-width="1.8" stroke-linecap="round" stroke-linejoin="round" ><path d="M20 6 9 17l-5-5"/></svg>
<span class="t " style="left:763.20px;top:1369.12px;font-size:34px;line-height:34px;letter-spacing:0.043px;color:#0a0a0a;-webkit-text-stroke:1.0px #0a0a0a;">Insomnia</span>
<div class="" style="position:absolute;left:1792.50px;top:1369.60px;width:37.30px;height:37.30px;box-sizing:border-box;background:#f8f8f8;border:1.5px solid #7888a0;border-radius:9.3px;box-shadow:0 2px 3px rgba(0,0,0,.06);"></div>
<span class="t " style="left:1849.20px;top:1369.12px;font-size:34px;line-height:34px;letter-spacing:0.533px;color:#0a0a0a;-webkit-text-stroke:1.0px #0a0a0a;">Slaapritme</span>
<div class="" style="position:absolute;left:3582.50px;top:1444.50px;width:177.50px;height:84.50px;background:#171717;border-radius:20px;box-shadow:0 2px 4px rgba(0,0,0,.08);"></div>
<span class="t " style="left:3619.68px;top:1468.02px;font-size:34px;line-height:34px;letter-spacing:0.000px;color:#fafafa;-webkit-text-stroke:1.35px #fafafa;">Save</span>
</div></div>
</div></div>
</body></html>
